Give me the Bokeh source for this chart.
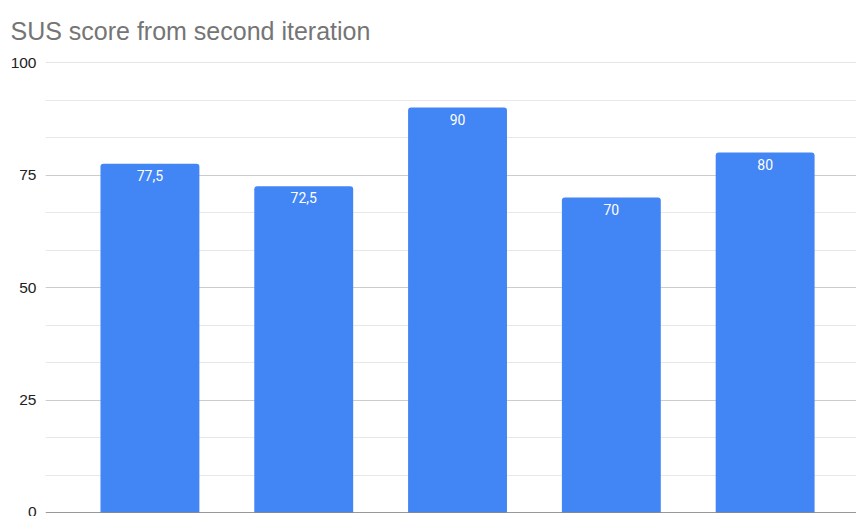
from bokeh.plotting import figure
from bokeh.models import ColumnDataSource, SingleIntervalTicker, Span, Range1d
from bokeh.core.properties import value
from bokeh.embed import file_html
from bokeh.resources import INLINE

positions = [1, 2, 3, 4, 5]
scores = [77.5, 72.5, 90, 70, 80]
score_labels = ["77,5", "72,5", "90", "70", "80"]
title_text = "SUS score from second iteration"

src = ColumnDataSource(dict(x=positions, top=scores, label=score_labels))

p = figure(width=856, height=516, output_backend="svg", toolbar_location=None,
           x_range=Range1d(0.321, 5.594), y_range=Range1d(0, 100),
           min_border_left=45, min_border_right=0, min_border_bottom=4, min_border_top=62)
p.outline_line_color = None
p.title.text = title_text
p.title.text_font = "Liberation Sans"
p.title.text_font_size = "25px"
p.title.text_font_style = "normal"
p.title.text_color = "#757575"
p.title.vertical_align = "top"
p.title.offset = -35
p.title.standoff = 31

p.xaxis.visible = False
p.xgrid.visible = False

tk = SingleIntervalTicker(interval=25, num_minor_ticks=3)
p.yaxis.ticker = tk
p.ygrid.ticker = tk
p.yaxis.axis_line_color = None
p.yaxis.major_tick_line_color = None
p.yaxis.minor_tick_line_color = None
p.yaxis.major_tick_out = 0
p.yaxis.minor_tick_out = 0
p.yaxis.major_label_text_font = "Liberation Sans"
p.yaxis.major_label_text_font_size = "15.5px"
p.yaxis.major_label_text_color = "#222222"
p.yaxis.major_label_standoff = 9
p.ygrid.grid_line_color = "#cccccc"
p.ygrid.minor_grid_line_color = "#e8e8e8"

p.vbar(x="x", top="top", bottom=0, width=0.643, source=src,
       fill_color="#4285F4", line_color=None, border_radius=(3, 3, 0, 0))

p.text(x="x", y="top", text="label", source=src, text_color="white",
       text_font=value("Roboto"), text_font_size="14px",
       text_align="center", text_baseline="top", y_offset=6)

p.add_layout(Span(location=0, dimension="width", line_color="#333333", line_width=1))
p.add_layout(Span(location=100, dimension="width", line_color="#cccccc", line_width=1))

open("out.html", "w").write(file_html(p, INLINE))
